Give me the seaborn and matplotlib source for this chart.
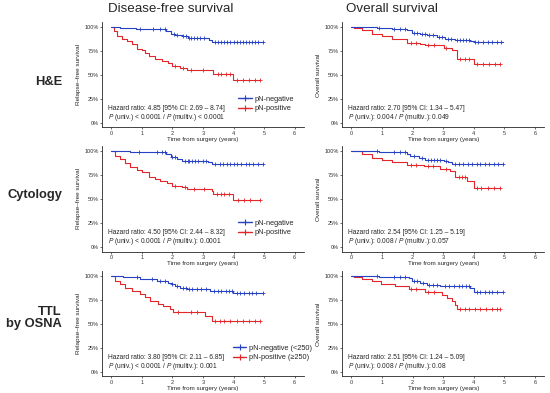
import numpy as np
import pandas as pd
import seaborn as sns
import matplotlib.pyplot as plt
from matplotlib.lines import Line2D

# ---- data (time in years, survival fraction) ----
col_titles = ["Disease-free survival", "Overall survival"]
row_labels = ["H&E", "Cytology", "TTL\nby OSNA"]
y_labels = ["Relapse\u2013free survival", "Overall survival"]
x_ticks = [0, 1, 2, 3, 4, 5, 6]
y_ticks = [0, 0.25, 0.5, 0.75, 1.0]
y_tick_labels = ["0%", "25%", "50%", "75%", "100%"]

# H&E, disease-free
hne_dfs_neg_t = [0, 0.3, 0.8, 1.2, 1.8, 1.95, 2.1, 2.3, 2.5, 3.2, 3.3, 4.95]
hne_dfs_neg_s = [1.0, 0.99, 0.982, 0.975, 0.958, 0.93, 0.915, 0.905, 0.888, 0.863, 0.842, 0.842]
hne_dfs_neg_c = [0.95, 1.38, 1.6, 1.76, 2.05, 2.15, 2.35, 2.45, 2.55, 2.62, 2.7, 2.8, 2.9, 3.05,
                 3.4, 3.5, 3.6, 3.7, 3.8, 3.9, 4.0, 4.1, 4.2, 4.3, 4.4, 4.5, 4.6, 4.7, 4.8, 4.95]
hne_dfs_pos_t = [0, 0.08, 0.18, 0.35, 0.51, 0.67, 0.84, 1.0, 1.1, 1.22, 1.43, 1.65, 1.87, 1.98,
                 2.25, 2.47, 3.34, 3.99, 4.85]
hne_dfs_pos_s = [1.0, 0.958, 0.905, 0.87, 0.853, 0.818, 0.772, 0.758, 0.73, 0.695, 0.667, 0.642,
                 0.625, 0.589, 0.572, 0.547, 0.512, 0.449, 0.449]
hne_dfs_pos_c = [2.1, 2.35, 2.6, 3.0, 3.5, 3.6, 3.75, 3.9, 4.1, 4.3, 4.5, 4.7, 4.85]

# Cytology, disease-free
cyt_dfs_neg_t = [0, 0.6, 1.27, 1.8, 1.95, 2.15, 2.3, 3.15, 3.28, 4.95]
cyt_dfs_neg_s = [1.0, 0.993, 0.985, 0.97, 0.938, 0.914, 0.897, 0.88, 0.862, 0.862]
cyt_dfs_neg_c = [0.9, 1.5, 1.65, 1.75, 2.0, 2.1, 2.4, 2.5, 2.55, 2.65, 2.75, 2.85, 3.0, 3.1,
                 3.4, 3.55, 3.65, 3.8, 3.9, 4.0, 4.1, 4.25, 4.4, 4.5, 4.65, 4.8, 4.95]
cyt_dfs_pos_t = [0, 0.13, 0.29, 0.46, 0.62, 0.84, 1.0, 1.22, 1.43, 1.6, 1.82, 1.98, 2.3, 2.47,
                 3.28, 3.34, 3.99, 4.85]
cyt_dfs_pos_s = [1.0, 0.948, 0.914, 0.872, 0.828, 0.8, 0.776, 0.731, 0.707, 0.69, 0.666, 0.638,
                 0.621, 0.603, 0.586, 0.552, 0.49, 0.49]
cyt_dfs_pos_c = [2.1, 2.4, 2.7, 3.05, 3.45, 3.6, 3.7, 3.85, 4.15, 4.35, 4.55, 4.85]

# TTL by OSNA, disease-free
ttl_dfs_neg_t = [0, 0.4, 0.95, 1.49, 1.87, 1.98, 2.09, 2.25, 2.47, 3.23, 3.99, 4.95]
ttl_dfs_neg_s = [1.0, 0.99, 0.966, 0.948, 0.93, 0.914, 0.897, 0.872, 0.862, 0.845, 0.817, 0.817]
ttl_dfs_neg_c = [0.85, 1.35, 1.6, 1.75, 2.0, 2.15, 2.35, 2.45, 2.55, 2.65, 2.8, 2.95, 3.1,
                 3.35, 3.5, 3.6, 3.75, 3.85, 3.95, 4.1, 4.2, 4.35, 4.5, 4.6, 4.75, 4.95]
ttl_dfs_pos_t = [0, 0.13, 0.29, 0.46, 0.67, 0.95, 1.11, 1.27, 1.54, 1.71, 1.92, 2.03, 2.41,
                 3.07, 3.28, 4.85]
ttl_dfs_pos_s = [1.0, 0.948, 0.914, 0.879, 0.845, 0.81, 0.776, 0.741, 0.707, 0.69, 0.655, 0.628,
                 0.621, 0.586, 0.534, 0.534]
ttl_dfs_pos_c = [2.2, 2.6, 2.8, 3.4, 3.55, 3.7, 3.9, 4.1, 4.3, 4.5, 4.7, 4.85]

# H&E, overall
hne_os_neg_t = [0, 0.84, 1.33, 1.82, 1.98, 2.25, 2.47, 2.8, 3.07, 3.39, 3.88, 3.99, 4.95]
hne_os_neg_s = [1.0, 0.993, 0.983, 0.965, 0.94, 0.924, 0.913, 0.896, 0.878, 0.868, 0.854, 0.844, 0.844]
hne_os_neg_c = [0.9, 1.4, 1.6, 1.75, 2.05, 2.15, 2.3, 2.4, 2.55, 2.65, 2.85, 2.95, 3.15, 3.25,
                3.45, 3.55, 3.65, 3.75, 3.85, 4.05, 4.15, 4.3, 4.45, 4.6, 4.75, 4.9]
hne_os_pos_t = [0, 0.08, 0.35, 0.67, 1.0, 1.33, 1.82, 2.25, 2.41, 3.01, 3.28, 3.45, 3.99, 4.85]
hne_os_pos_s = [1.0, 0.99, 0.965, 0.93, 0.903, 0.878, 0.833, 0.826, 0.809, 0.785, 0.757, 0.67,
                0.611, 0.611]
hne_os_pos_c = [1.95, 2.1, 2.5, 2.7, 3.1, 3.55, 3.7, 3.85, 4.1, 4.3, 4.5, 4.7, 4.85]

# Cytology, overall
cyt_os_neg_t = [0, 0.89, 1.82, 1.92, 2.2, 2.41, 3.01, 3.17, 3.28, 4.95]
cyt_os_neg_s = [1.0, 0.99, 0.972, 0.948, 0.924, 0.91, 0.897, 0.88, 0.862, 0.862]
cyt_os_neg_c = [0.85, 1.4, 1.6, 1.75, 2.05, 2.3, 2.5, 2.6, 2.7, 2.8, 2.9, 3.1, 3.4, 3.5, 3.65,
                3.8, 3.95, 4.1, 4.2, 4.35, 4.5, 4.65, 4.8, 4.95]
cyt_os_pos_t = [0, 0.35, 0.67, 1.0, 1.33, 1.82, 2.36, 2.9, 3.23, 3.39, 3.77, 3.99, 4.85]
cyt_os_pos_s = [1.0, 0.966, 0.931, 0.903, 0.89, 0.855, 0.838, 0.817, 0.793, 0.724, 0.683, 0.614, 0.614]
cyt_os_pos_c = [1.95, 2.1, 2.5, 2.65, 3.1, 3.5, 3.6, 3.7, 4.1, 4.25, 4.45, 4.65, 4.85]

# TTL by OSNA, overall
ttl_os_neg_t = [0, 0.89, 1.87, 1.98, 2.25, 2.47, 2.9, 3.88, 3.99, 4.95]
ttl_os_neg_s = [1.0, 0.993, 0.976, 0.948, 0.924, 0.907, 0.896, 0.879, 0.837, 0.837]
ttl_os_neg_c = [0.85, 1.4, 1.6, 1.75, 2.05, 2.15, 2.35, 2.55, 2.65, 2.8, 3.05, 3.2, 3.35, 3.5,
                3.6, 3.75, 3.85, 4.1, 4.2, 4.35, 4.5, 4.6, 4.75, 4.95]
ttl_os_pos_t = [0, 0.08, 0.35, 0.67, 0.95, 1.43, 1.87, 2.41, 2.96, 3.12, 3.28, 3.39, 3.45, 4.85]
ttl_os_pos_s = [1.0, 0.986, 0.965, 0.948, 0.913, 0.896, 0.865, 0.83, 0.803, 0.768, 0.734, 0.699,
                0.657, 0.657]
ttl_os_pos_c = [1.95, 2.1, 2.5, 2.7, 3.55, 3.7, 3.85, 4.05, 4.2, 4.4, 4.6, 4.75, 4.85]

hr_lines = [
    ["Hazard ratio: 4.85 [95% CI: 2.69 \u2013 8.74]", "Hazard ratio: 2.70 [95% CI: 1.34 \u2013 5.47]"],
    ["Hazard ratio: 4.50 [95% CI: 2.44 \u2013 8.32]", "Hazard ratio: 2.54 [95% CI: 1.25 \u2013 5.19]"],
    ["Hazard ratio: 3.80 [95% CI: 2.11 \u2013 6.85]", "Hazard ratio: 2.51 [95% CI: 1.24 \u2013 5.09]"],
]
p_lines = [
    ["$P$ (univ.) < 0.0001 / $P$ (multiv.) < 0.0001", "$P$ (univ.): 0.004 / $P$ (multiv.): 0.049"],
    ["$P$ (univ.) < 0.0001 / $P$ (multiv.): 0.0001", "$P$ (univ.): 0.008 / $P$ (multiv.): 0.057"],
    ["$P$ (univ.) < 0.0001 / $P$ (multiv.): 0.001", "$P$ (univ.): 0.008 / $P$ (multiv.): 0.08"],
]
legend_labels = [
    ["pN-negative", "pN-positive"],
    ["pN-negative", "pN-positive"],
    ["pN-negative (<250)", "pN-positive (\u2265250)"],
]

curves = [
    [(hne_dfs_neg_t, hne_dfs_neg_s, hne_dfs_neg_c, hne_dfs_pos_t, hne_dfs_pos_s, hne_dfs_pos_c),
     (hne_os_neg_t, hne_os_neg_s, hne_os_neg_c, hne_os_pos_t, hne_os_pos_s, hne_os_pos_c)],
    [(cyt_dfs_neg_t, cyt_dfs_neg_s, cyt_dfs_neg_c, cyt_dfs_pos_t, cyt_dfs_pos_s, cyt_dfs_pos_c),
     (cyt_os_neg_t, cyt_os_neg_s, cyt_os_neg_c, cyt_os_pos_t, cyt_os_pos_s, cyt_os_pos_c)],
    [(ttl_dfs_neg_t, ttl_dfs_neg_s, ttl_dfs_neg_c, ttl_dfs_pos_t, ttl_dfs_pos_s, ttl_dfs_pos_c),
     (ttl_os_neg_t, ttl_os_neg_s, ttl_os_neg_c, ttl_os_pos_t, ttl_os_pos_s, ttl_os_pos_c)],
]

BLUE = "#2741C4"
RED = "#E3262A"

sns.set_style("ticks")
plt.rcParams["font.family"] = ["Liberation Sans", "DejaVu Sans"]
plt.rcParams["mathtext.fontset"] = "custom"
plt.rcParams["mathtext.it"] = "Liberation Sans:italic"
plt.rcParams["mathtext.rm"] = "Liberation Sans"

fig = plt.figure(figsize=(5.5, 3.93), dpi=100)

row_bottoms = [0.6756, 0.360, 0.042]
row_height = 0.268
col_lefts = [0.1855, 0.6224]
col_width = 0.367


def draw_km(ax, t, s, c, color):
    df = pd.DataFrame({"time": t, "surv": s})
    sns.lineplot(data=df, x="time", y="surv", ax=ax, color=color, lw=0.8,
                 drawstyle="steps-post", estimator=None, sort=False)
    t_arr = np.asarray(t)
    idx = np.searchsorted(t_arr, np.asarray(c), side="right") - 1
    cdf = pd.DataFrame({"time": c, "surv": np.asarray(s)[idx]})
    sns.scatterplot(data=cdf, x="time", y="surv", ax=ax, color=color, marker="+",
                    s=10, linewidth=0.6, zorder=3)


for r in range(3):
    for ci in range(2):
        ax = fig.add_axes([col_lefts[ci], row_bottoms[r], col_width, row_height])
        nt, ns, nc, pt, ps, pc = curves[r][ci]
        draw_km(ax, pt, ps, pc, RED)
        draw_km(ax, nt, ns, nc, BLUE)
        ax.set_xlim(-0.3, 6.3)
        ax.set_ylim(-0.05, 1.05)
        ax.set_xticks(x_ticks)
        ax.set_yticks(y_ticks)
        ax.set_yticklabels(y_tick_labels)
        ax.tick_params(labelsize=4.0, length=1.5, width=0.5, pad=1, colors="#333333")
        for sp in ["left", "bottom"]:
            ax.spines[sp].set_linewidth(0.6)
        sns.despine(ax=ax)
        ax.set_xlabel("Time from surgery (years)", fontsize=4.5, labelpad=1)
        ax.set_ylabel(y_labels[ci], fontsize=4.6, labelpad=2.5)

        ax.text(-0.1, 0.144, hr_lines[r][ci], fontsize=4.8, va="center", ha="left")
        ax.text(-0.1, 0.05, p_lines[r][ci], fontsize=4.8, va="center", ha="left")

        if ci == 0:
            handles = [Line2D([], [], color=BLUE, lw=1.0, marker="+", ms=4, mew=0.8),
                       Line2D([], [], color=RED, lw=1.0, marker="+", ms=4, mew=0.8)]
            lx = 0.65 if r == 2 else 0.675
            ax.legend(handles, legend_labels[r], loc="center left",
                      bbox_to_anchor=(lx, 0.225), frameon=False, fontsize=5.3,
                      handlelength=1.8, handletextpad=0.4, labelspacing=0.35,
                      borderaxespad=0, borderpad=0)

# column titles
fig.text(108 / 550, 1 - 9.3 / 393, col_titles[0], fontsize=9.6, va="center", ha="left")
fig.text(346 / 550, 1 - 9.3 / 393, col_titles[1], fontsize=9.6, va="center", ha="left")

# row labels (right-aligned next to the y labels)
row_y = [82, 195, 318]
for lab, yy in zip(row_labels, row_y):
    fig.text(62 / 550, 1 - yy / 393, lab, fontsize=9.3, fontweight="bold", va="center",
             ha="right", multialignment="right", linespacing=1.05)

fig.savefig("out.png", dpi=100)
